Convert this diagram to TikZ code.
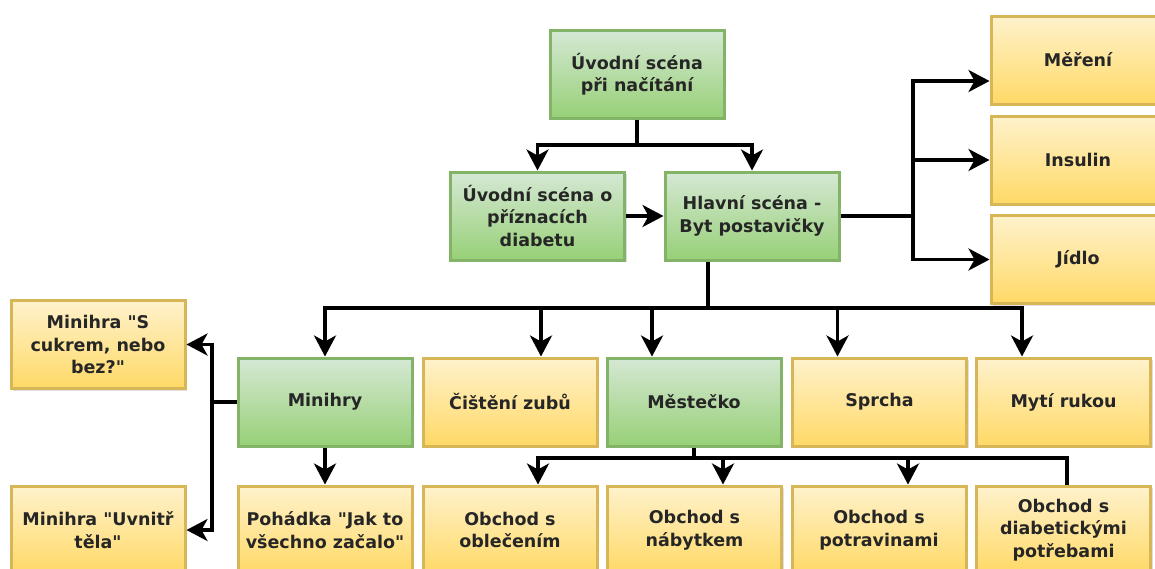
\documentclass[tikz,border=0pt]{standalone}
\usepackage{fontspec}
\setmainfont{DejaVu Sans}[Ligatures=TeXOff]
\usetikzlibrary{arrows.meta,shadows}

\definecolor{zelenaH}{HTML}{D5E8D4}
\definecolor{zelenaD}{HTML}{97D077}
\definecolor{zelenaR}{HTML}{82B366}
\definecolor{zlutaH}{HTML}{FFF2CC}
\definecolor{zlutaD}{HTML}{FFD966}
\definecolor{zlutaR}{HTML}{D6B656}

\begin{document}
\begin{tikzpicture}[x=1pt,y=-1pt,
  scena/.style={rectangle, line width=3pt, minimum width=174pt, minimum height=88pt,
    inner sep=3pt, align=center, text=black!85,
    font=\fontsize{17.5}{22.5}\selectfont\bfseries,
    drop shadow={shadow xshift=2pt, shadow yshift=-2pt, opacity=0.25, fill=gray}},
  zelena/.style={scena, draw=zelenaR, top color=zelenaH, bottom color=zelenaD},
  zluta/.style={scena, draw=zlutaR, top color=zlutaH, bottom color=zlutaD},
  vetev/.style={line width=3.5pt},
  sipka/.style={vetev, -{Stealth[length=21pt,width=22pt,inset=6pt]}}]
  \useasboundingbox[fill=white] (0,0) rectangle (1155,568);

  % sceny
  \node[zelena] (uvod) at (637,74) {Úvodní scéna\\při načítání};
  \node[zelena] (priznaky) at (537.5,216) {Úvodní scéna o\\příznacích\\diabetu};
  \node[zelena] (byt) at (752,216) {Hlavní scéna -\\Byt postavičky};

  \node[zluta] (mereni) at (1078,60) {Měření};
  \node[zluta] (insulin) at (1078,160) {Insulin};
  \node[zluta] (jidlo) at (1078,259.5) {Jídlo};

  \node[zelena] (minihry) at (325,402) {Minihry};
  \node[zluta] (zuby) at (510,402) {Čištění zubů};
  \node[zelena] (mestecko) at (694,402) {Městečko};
  \node[zluta] (sprcha) at (879.5,402) {Sprcha};
  \node[zluta] (ruce) at (1063.5,402) {Mytí rukou};

  \node[zluta] (cukr) at (98,344.5) {Minihra "S\\cukrem, nebo\\bez?"};
  \node[zluta] (telo) at (98,530) {Minihra "Uvnitř\\těla"};
  \node[zluta] (pohadka) at (325,530) {Pohádka "Jak to\\všechno začalo"};

  \node[zluta] (obleceni) at (510,530) {Obchod s\\oblečením};
  \node[zluta] (nabytek) at (694.5,530) {Obchod s\\nábytkem};
  \node[zluta] (potraviny) at (879,530) {Obchod s\\potravinami};
  \node[zluta] (diabet) at (1063.5,530) {Obchod s\\diabetickými\\potřebami};

  % rozbocky
  \coordinate (r1) at (637,145);
  \coordinate (r2) at (913,216);
  \coordinate (r3) at (708,308);
  \coordinate (r4) at (212,402);
  \coordinate (r5) at (694,458);

  \draw[sipka] (uvod.south) -- (r1) -| (priznaky.north);
  \draw[sipka] (r1) -| (byt.north);
  \draw[sipka] (priznaky.east) -- (byt.west);

  \draw[sipka] (byt.east) -- (r2) |- ([yshift=-21pt]mereni.west);
  \draw[sipka] (r2) |- (insulin.west);
  \draw[sipka] (r2) |- (jidlo.west);

  \draw[sipka] ([xshift=-44pt]byt.south) -- (r3) -| (minihry.north);
  \draw[sipka] (r3) -| ([xshift=31pt]zuby.north);
  \draw[sipka] (r3) -| ([xshift=-42pt]mestecko.north);
  \draw[sipka] (r3) -| ([xshift=-42pt]sprcha.north);
  \draw[sipka] (r3) -| ([xshift=-41.5pt]ruce.north);

  \draw[sipka] (minihry.west) -- (r4) |- (cukr.east);
  \draw[sipka] (r4) |- (telo.east);
  \draw[sipka] (minihry.south) -- (pohadka.north);

  \draw[sipka] (mestecko.south) -- (r5) -| ([xshift=28pt]obleceni.north);
  \draw[sipka] (r5) -| ([xshift=28.5pt]nabytek.north);
  \draw[sipka] (r5) -| ([xshift=29pt]potraviny.north);
  \draw[vetev] (r5) -| ([xshift=3.5pt]diabet.north);
\end{tikzpicture}
\end{document}
